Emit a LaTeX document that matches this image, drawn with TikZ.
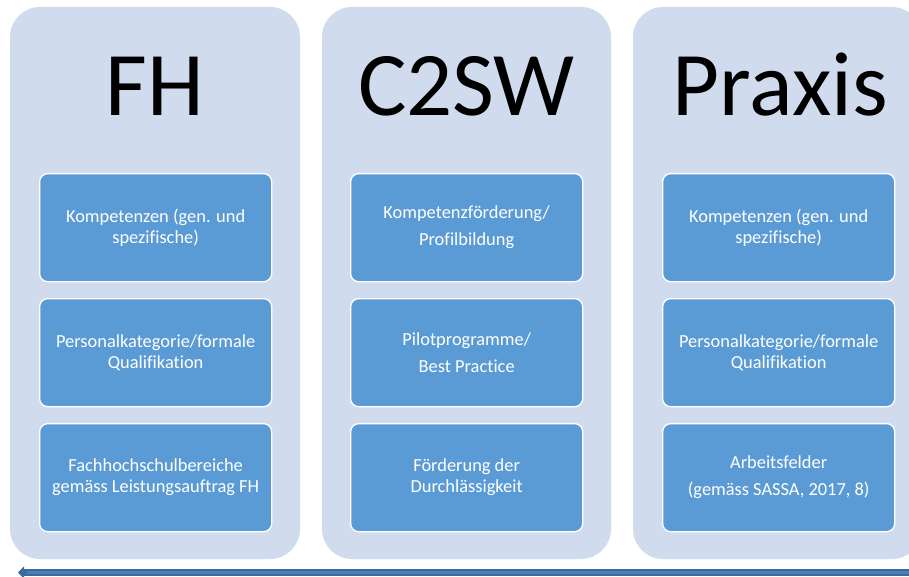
\documentclass[tikz,border=0pt]{standalone}
\usepackage{fontspec}
\setmainfont{Carlito}[Ligatures=NoCommon]
\usetikzlibrary{arrows.meta}
\definecolor{panelc}{HTML}{D0DCEE}
\definecolor{boxc}{HTML}{5B9BD5}
\definecolor{arrc}{HTML}{4A7EBB}
\definecolor{arrd}{HTML}{3D6A9E}
\tikzset{
  panel/.style={fill=panelc, draw=none, rounded corners=30pt},
  title/.style={font=\fontsize{91}{100}\selectfont, anchor=base, text=black},
  bluebox/.style={fill=boxc, draw=white, line width=1.3pt, rounded corners=8pt,
    minimum width=232pt, minimum height=108pt, anchor=north west, inner sep=0pt,
    text=white, align=center, font=\fontsize{18.4}{21}\selectfont},
  wide/.style={font=\fontsize{18.4}{27}\selectfont},
}
\begin{document}
\begin{tikzpicture}[x=1pt,y=-1pt]
\useasboundingbox (0,0) rectangle (909,577);
\clip (0,0) rectangle (909,577);
\fill[white] (0,0) rectangle (909,577);
% panels
\path[panel] (10,7) rectangle (300,559);
\path[panel] (322,7) rectangle (611,559);
\path[panel] (633,7) rectangle (922,559);
% titles
\node[title] (tFH) at (155,116) {FH};
\node[title] (tC) at (466.5,116) {C2SW};
\node[title] (tP) at (780,116) {Praxis};
% left column
\node[bluebox] (l1) at (39,173) {Kompetenzen (gen. und\\spezifische)};
\node[bluebox] (l2) at (39,298) {Personalkategorie/formale\\Qualifikation};
\node[bluebox] (l3) at (39,423) {Fachhochschulbereiche\\gemäss Leistungsauftrag FH};
% middle column
\node[bluebox,wide] (m1) at (350,173) {Kompetenzförderung/\\Profilbildung};
\node[bluebox,wide] (m2) at (350,298) {Pilotprogramme/\\Best Practice};
\node[bluebox] (m3) at (350,423) {Förderung der\\Durchlässigkeit};
% right column
\node[bluebox] (r1) at (662,173) {Kompetenzen (gen. und\\spezifische)};
\node[bluebox] (r2) at (662,298) {Personalkategorie/formale\\Qualifikation};
\node[bluebox,wide] (r3) at (662,423) {Arbeitsfelder\\(gemäss SASSA, 2017, 8)};
% arrow
\coordinate (aR) at (912,572.5);
\coordinate (aL) at (18,572.5);
\draw[arrd, line width=6.5pt, -{Triangle[length=6pt,width=12pt]}] (aR) -- (aL);
\draw[arrc, line width=3.5pt] (aR) -- ([xshift=9pt]aL);
\end{tikzpicture}
\end{document}
